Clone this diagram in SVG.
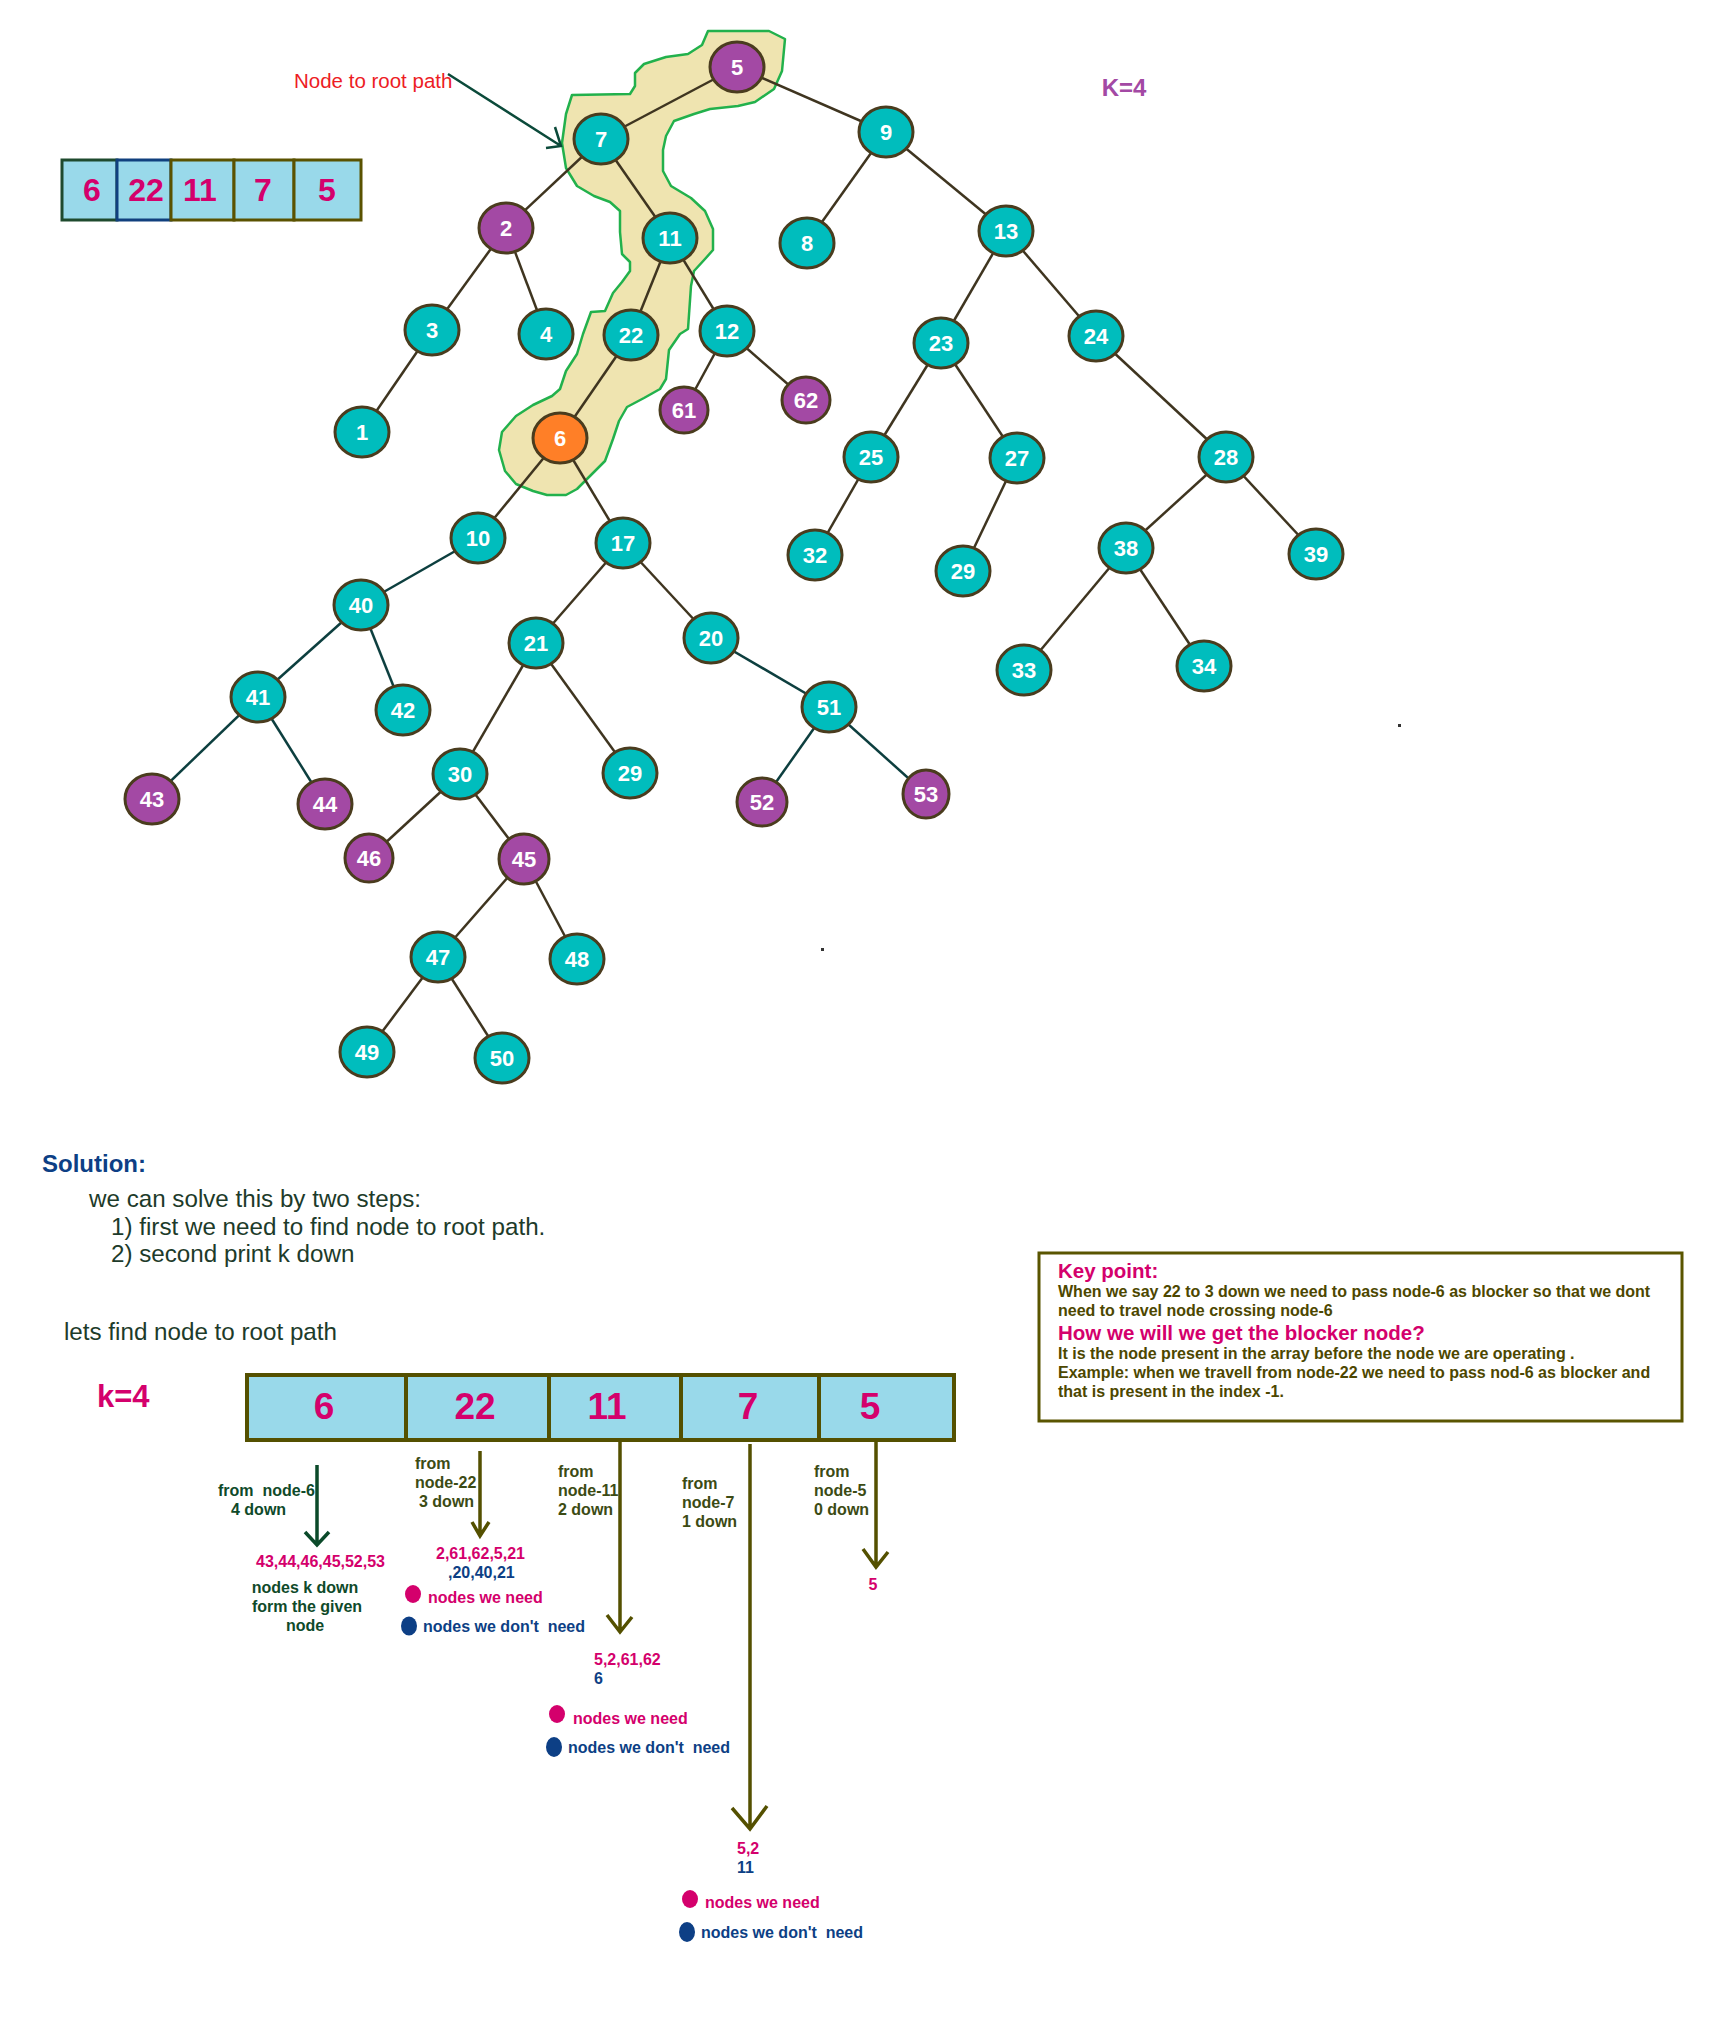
<svg xmlns="http://www.w3.org/2000/svg" width="1735" height="2019" viewBox="0 0 1735 2019">
<style>
.bg{fill:#ffffff}
.e{stroke:#3f3520;stroke-width:2.5;fill:none}
.e2{stroke:#0d3f3f;stroke-width:2.5;fill:none}
.n{stroke:#4a3c1e;stroke-width:3}
.t{fill:#00bdbd}
.p{fill:#a349a4}
.o{fill:#ff7f27}
.lbl{font-family:"Liberation Sans",Arial,sans-serif;font-weight:bold;font-size:22px;fill:#ffffff;text-anchor:middle}
.arr{font-family:"Liberation Sans",Arial,sans-serif;font-weight:bold;fill:#d4006c;text-anchor:middle}
.body{font-family:"Liberation Sans",Arial,sans-serif;font-size:24.2px;fill:#1d3b2a}
.sm{font-family:"Liberation Sans",Arial,sans-serif;font-weight:bold;font-size:16px}
.g{fill:#0f4a2a}
.ol{fill:#3c4b14}
.mg{fill:#d4006c}
.bl{fill:#0d3f85}
.kb{font-family:"Liberation Sans",Arial,sans-serif;font-weight:bold;font-size:16px;fill:#4d4700}
.kh{font-family:"Liberation Sans",Arial,sans-serif;font-weight:bold;font-size:20.5px;fill:#d4006c}
.va{stroke:#545000;stroke-width:3.5;fill:none}
.vg{stroke:#0b4a2a;stroke-width:3.5;fill:none}
</style>
<rect class="bg" x="0" y="0" width="1735" height="2019"/>

<!-- highlighted node-to-root band -->
<g id="band">
<path d="M708,31 L769,31 L785,39 L782,71 L774,89 L755,102 L738,106 L710,109 L694,114 L674,121 L666,136 L663,150 L663,171 L671,186 L691,198 L705,211 L713,229 L713,250 L705,259 L694,271 L691,286 L688,329 L680,334 L669,350 L666,379 L660,389 L644,398 L627,407 L619,421 L613,439 L605,461 L591,475 L577,489 L566,495 L547,495 L533,491 L516,484 L505,471 L499,450 L502,432 L516,416 L533,405 L552,396 L560,389 L566,371 L577,354 L583,334 L591,312 L605,311 L613,293 L622,282 L630,271 L630,262 L622,254 L620,232 L620,211 L610,202 L594,196 L577,186 L566,168 L562,143 L566,114 L572,95 L630,94 L635,86 L635,73 L644,64 L666,57 L688,54 L702,45 Z" fill="#efe4b0" stroke="#22b14c" stroke-width="2.5" stroke-linejoin="round"/>
</g>

<!-- connectors -->
<g id="connectors">
<line class="e" x1="737" y1="67" x2="601" y2="139"/>
<line class="e" x1="737" y1="67" x2="886" y2="132"/>
<line class="e" x1="601" y1="139" x2="506" y2="228"/>
<line class="e" x1="601" y1="139" x2="670" y2="238"/>
<line class="e" x1="506" y1="228" x2="432" y2="330"/>
<line class="e" x1="506" y1="228" x2="546" y2="334"/>
<line class="e" x1="432" y1="330" x2="362" y2="432"/>
<line class="e" x1="670" y1="238" x2="631" y2="335"/>
<line class="e" x1="670" y1="238" x2="727" y2="331"/>
<line class="e" x1="631" y1="335" x2="560" y2="438"/>
<line class="e" x1="727" y1="331" x2="684" y2="410"/>
<line class="e" x1="727" y1="331" x2="806" y2="400"/>
<line class="e" x1="886" y1="132" x2="807" y2="243"/>
<line class="e" x1="886" y1="132" x2="1006" y2="231"/>
<line class="e" x1="1006" y1="231" x2="941" y2="343"/>
<line class="e" x1="1006" y1="231" x2="1096" y2="336"/>
<line class="e" x1="941" y1="343" x2="871" y2="457"/>
<line class="e" x1="941" y1="343" x2="1017" y2="458"/>
<line class="e" x1="871" y1="457" x2="815" y2="555"/>
<line class="e" x1="1017" y1="458" x2="963" y2="571"/>
<line class="e" x1="1096" y1="336" x2="1226" y2="457"/>
<line class="e" x1="1226" y1="457" x2="1126" y2="548"/>
<line class="e" x1="1226" y1="457" x2="1316" y2="554"/>
<line class="e" x1="1126" y1="548" x2="1024" y2="670"/>
<line class="e" x1="1126" y1="548" x2="1204" y2="666"/>
<line class="e" x1="560" y1="438" x2="478" y2="538"/>
<line class="e" x1="560" y1="438" x2="623" y2="543"/>
<line class="e2" x1="478" y1="538" x2="361" y2="605"/>
<line class="e2" x1="361" y1="605" x2="258" y2="697"/>
<line class="e2" x1="361" y1="605" x2="403" y2="710"/>
<line class="e2" x1="258" y1="697" x2="152" y2="799"/>
<line class="e2" x1="258" y1="697" x2="325" y2="804"/>
<line class="e" x1="623" y1="543" x2="536" y2="643"/>
<line class="e" x1="623" y1="543" x2="711" y2="638"/>
<line class="e" x1="536" y1="643" x2="460" y2="774"/>
<line class="e" x1="536" y1="643" x2="630" y2="773"/>
<line class="e2" x1="711" y1="638" x2="829" y2="707"/>
<line class="e2" x1="829" y1="707" x2="762" y2="802"/>
<line class="e2" x1="829" y1="707" x2="926" y2="794"/>
<line class="e" x1="460" y1="774" x2="369" y2="858"/>
<line class="e" x1="460" y1="774" x2="524" y2="859"/>
<line class="e" x1="524" y1="859" x2="438" y2="957"/>
<line class="e" x1="524" y1="859" x2="577" y2="959"/>
<line class="e" x1="438" y1="957" x2="367" y2="1052"/>
<line class="e" x1="438" y1="957" x2="502" y2="1058"/>
</g>

<!-- nodes -->
<g id="n5"><ellipse class="n p" cx="737" cy="67" rx="27" ry="25"/><text class="lbl" x="737" y="75">5</text></g>
<g id="n7"><ellipse class="n t" cx="601" cy="139" rx="27" ry="25"/><text class="lbl" x="601" y="147">7</text></g>
<g id="n9"><ellipse class="n t" cx="886" cy="132" rx="27" ry="25"/><text class="lbl" x="886" y="140">9</text></g>
<g id="n2"><ellipse class="n p" cx="506" cy="228" rx="27" ry="25"/><text class="lbl" x="506" y="236">2</text></g>
<g id="n11"><ellipse class="n t" cx="670" cy="238" rx="27" ry="25"/><text class="lbl" x="670" y="246">11</text></g>
<g id="n8"><ellipse class="n t" cx="807" cy="243" rx="27" ry="25"/><text class="lbl" x="807" y="251">8</text></g>
<g id="n13"><ellipse class="n t" cx="1006" cy="231" rx="27" ry="25"/><text class="lbl" x="1006" y="239">13</text></g>
<g id="n3"><ellipse class="n t" cx="432" cy="330" rx="27" ry="25"/><text class="lbl" x="432" y="338">3</text></g>
<g id="n4"><ellipse class="n t" cx="546" cy="334" rx="27" ry="25"/><text class="lbl" x="546" y="342">4</text></g>
<g id="n22"><ellipse class="n t" cx="631" cy="335" rx="27" ry="25"/><text class="lbl" x="631" y="343">22</text></g>
<g id="n12"><ellipse class="n t" cx="727" cy="331" rx="27" ry="25"/><text class="lbl" x="727" y="339">12</text></g>
<g id="n61"><ellipse class="n p" cx="684" cy="410" rx="24" ry="23"/><text class="lbl" x="684" y="418">61</text></g>
<g id="n62"><ellipse class="n p" cx="806" cy="400" rx="24" ry="23"/><text class="lbl" x="806" y="408">62</text></g>
<g id="n23"><ellipse class="n t" cx="941" cy="343" rx="27" ry="25"/><text class="lbl" x="941" y="351">23</text></g>
<g id="n24"><ellipse class="n t" cx="1096" cy="336" rx="27" ry="25"/><text class="lbl" x="1096" y="344">24</text></g>
<g id="n1"><ellipse class="n t" cx="362" cy="432" rx="27" ry="25"/><text class="lbl" x="362" y="440">1</text></g>
<g id="n6"><ellipse class="n o" cx="560" cy="438" rx="27" ry="25"/><text class="lbl" x="560" y="446">6</text></g>
<g id="n25"><ellipse class="n t" cx="871" cy="457" rx="27" ry="25"/><text class="lbl" x="871" y="465">25</text></g>
<g id="n27"><ellipse class="n t" cx="1017" cy="458" rx="27" ry="25"/><text class="lbl" x="1017" y="466">27</text></g>
<g id="n28"><ellipse class="n t" cx="1226" cy="457" rx="27" ry="25"/><text class="lbl" x="1226" y="465">28</text></g>
<g id="n10"><ellipse class="n t" cx="478" cy="538" rx="27" ry="25"/><text class="lbl" x="478" y="546">10</text></g>
<g id="n17"><ellipse class="n t" cx="623" cy="543" rx="27" ry="25"/><text class="lbl" x="623" y="551">17</text></g>
<g id="n32"><ellipse class="n t" cx="815" cy="555" rx="27" ry="25"/><text class="lbl" x="815" y="563">32</text></g>
<g id="n29a"><ellipse class="n t" cx="963" cy="571" rx="27" ry="25"/><text class="lbl" x="963" y="579">29</text></g>
<g id="n38"><ellipse class="n t" cx="1126" cy="548" rx="27" ry="25"/><text class="lbl" x="1126" y="556">38</text></g>
<g id="n39"><ellipse class="n t" cx="1316" cy="554" rx="27" ry="25"/><text class="lbl" x="1316" y="562">39</text></g>
<g id="n40"><ellipse class="n t" cx="361" cy="605" rx="27" ry="25"/><text class="lbl" x="361" y="613">40</text></g>
<g id="n21"><ellipse class="n t" cx="536" cy="643" rx="27" ry="25"/><text class="lbl" x="536" y="651">21</text></g>
<g id="n20"><ellipse class="n t" cx="711" cy="638" rx="27" ry="25"/><text class="lbl" x="711" y="646">20</text></g>
<g id="n33"><ellipse class="n t" cx="1024" cy="670" rx="27" ry="25"/><text class="lbl" x="1024" y="678">33</text></g>
<g id="n34"><ellipse class="n t" cx="1204" cy="666" rx="27" ry="25"/><text class="lbl" x="1204" y="674">34</text></g>
<g id="n41"><ellipse class="n t" cx="258" cy="697" rx="27" ry="25"/><text class="lbl" x="258" y="705">41</text></g>
<g id="n42"><ellipse class="n t" cx="403" cy="710" rx="27" ry="25"/><text class="lbl" x="403" y="718">42</text></g>
<g id="n51"><ellipse class="n t" cx="829" cy="707" rx="27" ry="25"/><text class="lbl" x="829" y="715">51</text></g>
<g id="n43"><ellipse class="n p" cx="152" cy="799" rx="27" ry="25"/><text class="lbl" x="152" y="807">43</text></g>
<g id="n44"><ellipse class="n p" cx="325" cy="804" rx="27" ry="25"/><text class="lbl" x="325" y="812">44</text></g>
<g id="n30"><ellipse class="n t" cx="460" cy="774" rx="27" ry="25"/><text class="lbl" x="460" y="782">30</text></g>
<g id="n29b"><ellipse class="n t" cx="630" cy="773" rx="27" ry="25"/><text class="lbl" x="630" y="781">29</text></g>
<g id="n52"><ellipse class="n p" cx="762" cy="802" rx="25" ry="24"/><text class="lbl" x="762" y="810">52</text></g>
<g id="n53"><ellipse class="n p" cx="926" cy="794" rx="23" ry="24"/><text class="lbl" x="926" y="802">53</text></g>
<g id="n46"><ellipse class="n p" cx="369" cy="858" rx="24" ry="24"/><text class="lbl" x="369" y="866">46</text></g>
<g id="n45"><ellipse class="n p" cx="524" cy="859" rx="25" ry="25"/><text class="lbl" x="524" y="867">45</text></g>
<g id="n47"><ellipse class="n t" cx="438" cy="957" rx="27" ry="25"/><text class="lbl" x="438" y="965">47</text></g>
<g id="n48"><ellipse class="n t" cx="577" cy="959" rx="27" ry="25"/><text class="lbl" x="577" y="967">48</text></g>
<g id="n49"><ellipse class="n t" cx="367" cy="1052" rx="27" ry="25"/><text class="lbl" x="367" y="1060">49</text></g>
<g id="n50"><ellipse class="n t" cx="502" cy="1058" rx="27" ry="25"/><text class="lbl" x="502" y="1066">50</text></g>

<!-- annotation -->
<g id="annotation">
<text x="294" y="88" font-family="Liberation Sans, Arial, sans-serif" font-size="20.5" fill="#ed1c24">Node to root path</text>
<path d="M448,74 L561,146 M555,127 L561,146 L546,148" stroke="#0b4a3a" stroke-width="2.5" fill="none"/>
<text x="1124" y="96" text-anchor="middle" font-family="Liberation Sans, Arial, sans-serif" font-weight="bold" font-size="24" fill="#a349a4">K=4</text>
<rect x="1398" y="724" width="3" height="3" fill="#333"/>
<rect x="821" y="948" width="3" height="3" fill="#333"/>
</g>

<!-- small array -->
<g id="small-array">
<rect x="62" y="160" width="55" height="60" fill="#99d9ea" stroke="#1e4a2e" stroke-width="3"/>
<rect x="117" y="160" width="54" height="60" fill="#99d9ea" stroke="#10407e" stroke-width="3"/>
<rect x="171" y="160" width="63" height="60" fill="#99d9ea" stroke="#5a5200" stroke-width="3"/>
<rect x="234" y="160" width="60" height="60" fill="#99d9ea" stroke="#5a5200" stroke-width="3"/>
<rect x="294" y="160" width="67" height="60" fill="#99d9ea" stroke="#5a5200" stroke-width="3"/>
<text class="arr" x="92" y="201" font-size="32">6</text>
<text class="arr" x="146" y="201" font-size="32">22</text>
<text class="arr" x="200" y="201" font-size="32">11</text>
<text class="arr" x="263" y="201" font-size="32">7</text>
<text class="arr" x="327" y="201" font-size="32">5</text>
</g>

<!-- solution text -->
<g id="solution">
<text x="42" y="1172" font-family="Liberation Sans, Arial, sans-serif" font-weight="bold" font-size="24" fill="#0d3f85">Solution:</text>
<text class="body" x="89" y="1207">we can solve this by two steps:</text>
<text class="body" x="111" y="1235">1) first we need to find node to root path.</text>
<text class="body" x="111" y="1262">2) second print k down</text>
<text class="body" x="64" y="1340">lets find node to root path</text>
<text x="97" y="1407" font-family="Liberation Sans, Arial, sans-serif" font-weight="bold" font-size="31" fill="#d4006c">k=4</text>
</g>

<!-- big array -->
<g id="big-array">
<rect x="247" y="1375" width="707" height="65" fill="#99d9ea" stroke="#545000" stroke-width="4"/>
<line x1="406" y1="1375" x2="406" y2="1440" stroke="#545000" stroke-width="4"/>
<line x1="549" y1="1375" x2="549" y2="1440" stroke="#545000" stroke-width="4"/>
<line x1="681" y1="1375" x2="681" y2="1440" stroke="#545000" stroke-width="4"/>
<line x1="819" y1="1375" x2="819" y2="1440" stroke="#545000" stroke-width="4"/>
<text class="arr" x="324" y="1419" font-size="37">6</text>
<text class="arr" x="475" y="1419" font-size="37">22</text>
<text class="arr" x="607" y="1419" font-size="37">11</text>
<text class="arr" x="748" y="1419" font-size="37">7</text>
<text class="arr" x="870" y="1419" font-size="37">5</text>
</g>

<!-- k-down arrows -->
<g id="k-down-arrows">
<path class="vg" d="M317,1465 L317,1545 M305,1532 L317,1545 L329,1532"/>
<path class="va" d="M480,1451 L480,1536 M472,1522 L480,1536 L489,1522"/>
<path class="va" d="M620,1440 L620,1632 M607,1615 L620,1632 L632,1617"/>
<path class="va" d="M750,1444 L750,1829 M732,1808 L750,1829 L767,1806"/>
<path class="va" d="M876,1440 L876,1567 M863,1549 L876,1567 L888,1552"/>
</g>

<!-- node-6 labels -->
<g id="from-node6">
<text class="sm g" x="218" y="1496" style="white-space:pre">from  node-6</text>
<text class="sm g" x="231" y="1515">4 down</text>
<text class="sm mg" x="256" y="1567">43,44,46,45,52,53</text>
<text class="sm g" x="305" y="1593" text-anchor="middle">nodes k down</text>
<text class="sm g" x="307" y="1612" text-anchor="middle">form the given</text>
<text class="sm g" x="305" y="1631" text-anchor="middle">node</text>
</g>

<!-- node-22 labels -->
<g id="from-node22">
<text class="sm ol" x="415" y="1469">from</text>
<text class="sm ol" x="415" y="1488">node-22</text>
<text class="sm ol" x="419" y="1507">3 down</text>
<text class="sm mg" x="436" y="1559">2,61,62,5,21</text>
<text class="sm bl" x="448" y="1578">,20,40,21</text>
<ellipse cx="413" cy="1594" rx="8" ry="9" fill="#d4006c"/>
<text class="sm mg" x="428" y="1603">nodes we need</text>
<ellipse cx="409" cy="1626" rx="8" ry="9.5" fill="#0d3f85"/>
<text class="sm bl" x="423" y="1632" style="white-space:pre">nodes we don't  need</text>
</g>

<!-- node-11 labels -->
<g id="from-node11">
<text class="sm ol" x="558" y="1477">from</text>
<text class="sm ol" x="558" y="1496">node-11</text>
<text class="sm ol" x="558" y="1515">2 down</text>
<text class="sm mg" x="594" y="1665">5,2,61,62</text>
<text class="sm bl" x="594" y="1684">6</text>
<ellipse cx="557" cy="1714" rx="8" ry="9" fill="#d4006c"/>
<text class="sm mg" x="573" y="1724">nodes we need</text>
<ellipse cx="554" cy="1747" rx="8" ry="10" fill="#0d3f85"/>
<text class="sm bl" x="568" y="1753" style="white-space:pre">nodes we don't  need</text>
</g>

<!-- node-7 labels -->
<g id="from-node7">
<text class="sm ol" x="682" y="1489">from</text>
<text class="sm ol" x="682" y="1508">node-7</text>
<text class="sm ol" x="682" y="1527">1 down</text>
<text class="sm mg" x="737" y="1854">5,2</text>
<text class="sm bl" x="737" y="1873">11</text>
<ellipse cx="690" cy="1899" rx="8" ry="9" fill="#d4006c"/>
<text class="sm mg" x="705" y="1908">nodes we need</text>
<ellipse cx="687" cy="1932" rx="8" ry="10" fill="#0d3f85"/>
<text class="sm bl" x="701" y="1938" style="white-space:pre">nodes we don't  need</text>
</g>

<!-- node-5 labels -->
<g id="from-node5">
<text class="sm ol" x="814" y="1477">from</text>
<text class="sm ol" x="814" y="1496">node-5</text>
<text class="sm ol" x="814" y="1515">0 down</text>
<text class="sm mg" x="873" y="1590" text-anchor="middle">5</text>
</g>

<!-- key point box -->
<g id="key-point">
<rect x="1039" y="1253" width="643" height="168" fill="#ffffff" stroke="#5a5500" stroke-width="3"/>
<text class="kh" x="1058" y="1278">Key point:</text>
<text class="kb" x="1058" y="1297">When we say 22 to 3 down we need to pass node-6 as blocker so that we dont</text>
<text class="kb" x="1058" y="1316">need to travel node crossing node-6</text>
<text class="kh" x="1058" y="1340">How we will we get the blocker node?</text>
<text class="kb" x="1058" y="1359">It is the node present in the array before the node we are operating .</text>
<text class="kb" x="1058" y="1378">Example: when we travell from node-22 we need to pass nod-6 as blocker and</text>
<text class="kb" x="1058" y="1397">that is present in the index -1.</text>
</g>
</svg>
